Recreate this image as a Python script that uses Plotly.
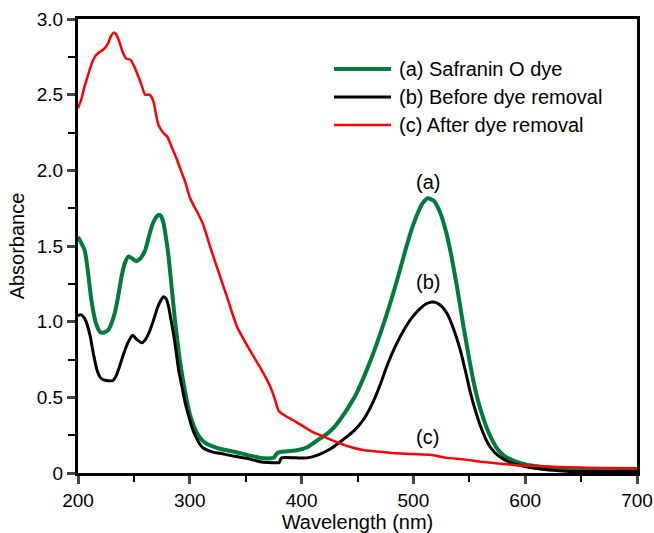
import plotly.graph_objects as go

# (a) Safranin O dye
wl_a = [200, 206, 212, 216, 220, 224, 227, 230, 233, 236, 239, 242, 245, 248, 252, 256, 260, 263, 266, 269,
        272, 274, 276.5, 279, 281, 284, 287, 291, 294, 297, 300, 303, 306, 309, 312, 316, 320, 327, 340, 351,
        357, 363, 368, 372, 375, 378, 382, 390, 396, 405, 411, 417, 423, 430, 438, 444, 450, 456, 462, 468,
        474, 480, 486, 492, 498, 504, 508, 513, 518, 524, 529, 533, 539, 545, 551, 556, 560, 565, 569, 575,
        581, 590, 602, 615, 630, 641, 660, 680, 700]
abs_a = [1.56, 1.47, 1.14, 0.99, 0.93, 0.93, 0.945, 0.99, 1.06, 1.17, 1.30, 1.39, 1.43, 1.42, 1.40, 1.42, 1.47, 1.55, 1.63, 1.68,
         1.705, 1.70, 1.65, 1.54, 1.43, 1.21, 0.99, 0.75, 0.61, 0.49, 0.39, 0.32, 0.27, 0.235, 0.21, 0.19, 0.178, 0.16, 0.14, 0.12,
         0.11, 0.10, 0.097, 0.097, 0.10, 0.13, 0.14, 0.145, 0.15, 0.17, 0.20, 0.23, 0.26, 0.31, 0.39, 0.46, 0.54, 0.64, 0.75, 0.87,
         1.00, 1.14, 1.29, 1.45, 1.60, 1.72, 1.78, 1.815, 1.80, 1.72, 1.60, 1.47, 1.23, 0.96, 0.71, 0.53, 0.42, 0.31, 0.24, 0.16,
         0.115, 0.08, 0.053, 0.04, 0.03, 0.025, 0.02, 0.017, 0.015]

# (b) Before dye removal
wl_b = [200, 203, 206, 209, 211, 214, 217, 220, 223, 227, 231, 234, 237, 240, 244, 248.7, 253, 257, 261, 264.5,
        268, 271, 274, 276.5, 279, 281, 283, 285.4, 288, 290, 293, 296, 300, 303, 306, 309, 312, 320, 327, 340,
        351, 357, 363, 370, 378, 380, 382, 395, 405, 415, 426, 437, 447, 456, 464.6, 470.6, 477, 484, 491.5, 499,
        506.5, 512, 518, 524, 530, 536, 542, 547, 551, 556, 560, 565, 569, 575, 581, 590, 602, 615, 630, 641,
        670, 700]
abs_b = [1.04, 1.045, 1.02, 0.96, 0.90, 0.78, 0.68, 0.63, 0.615, 0.61, 0.61, 0.64, 0.70, 0.77, 0.85, 0.91, 0.88, 0.86, 0.89, 0.945,
         1.02, 1.09, 1.14, 1.165, 1.15, 1.10, 1.02, 0.92, 0.79, 0.68, 0.57, 0.46, 0.35, 0.28, 0.23, 0.19, 0.165, 0.14, 0.13, 0.11,
         0.097, 0.085, 0.075, 0.07, 0.068, 0.07, 0.10, 0.10, 0.10, 0.12, 0.16, 0.22, 0.28, 0.36, 0.48, 0.59, 0.72, 0.84, 0.945, 1.03,
         1.09, 1.12, 1.13, 1.11, 1.055, 0.95, 0.81, 0.66, 0.53, 0.40, 0.31, 0.22, 0.17, 0.12, 0.09, 0.06, 0.04, 0.025, 0.015, 0.01,
         0.01, 0.01]

# (c) After dye removal
wl_c = [200, 203, 206, 209, 212, 215, 219, 223, 227, 229, 232, 234, 237, 240, 243, 247, 250, 254, 257, 260,
        264, 266, 268, 270, 272, 276, 280, 284, 288, 292, 296, 300, 304, 307, 312, 318, 322, 327, 333, 342,
        350, 357, 365, 372, 376, 379.5, 385, 392, 399, 410, 420, 426, 440, 456, 470, 485, 500, 515, 530, 545,
        560, 580, 596, 620, 641, 670, 700]
abs_c = [2.41, 2.47, 2.56, 2.63, 2.70, 2.75, 2.78, 2.80, 2.84, 2.88, 2.91, 2.90, 2.85, 2.78, 2.74, 2.73, 2.69, 2.62, 2.56, 2.50,
         2.50, 2.48, 2.44, 2.36, 2.30, 2.25, 2.22, 2.15, 2.08, 2.00, 1.92, 1.82, 1.76, 1.72, 1.64, 1.50, 1.41, 1.30, 1.17, 0.97,
         0.86, 0.77, 0.67, 0.57, 0.49, 0.41, 0.38, 0.35, 0.32, 0.27, 0.24, 0.22, 0.18, 0.15, 0.14, 0.13, 0.125, 0.12, 0.10, 0.09,
         0.075, 0.06, 0.05, 0.043, 0.038, 0.033, 0.031]

series_names = ["(a) Safranin O dye", "(b) Before dye removal", "(c) After dye removal"]
series_colors = ["#007A3D", "#000000", "#FF0000"]
series_widths = [4, 3, 2.5]

y_tickvals = [0, 0.5, 1.0, 1.5, 2.0, 2.5, 3.0]
y_ticktext = ["0", "0.5", "1.0", "1.5", "2.0", "2.5", "3.0"]
x_tickvals = [200, 300, 400, 500, 600, 700]

label_texts = ["(a)", "(b)", "(c)"]
label_x = [513, 513, 513]
label_y = [1.92, 1.26, 0.24]

FONT = "Liberation Sans, Arial, Helvetica, sans-serif"
FS = 20
FS_TICK = 19

# plot-area geometry (pixels) used for the hand-drawn legend
W, H = 654, 533
ML, MR, MT, MB = 78, 17, 19, 60
PW, PH = W - ML - MR, H - MT - MB


def px_x(p):
    return (p - ML) / PW


def px_y(p):
    return (H - MB - p) / PH


fig = go.Figure()
for wl, ab, name, col, w in zip([wl_a, wl_b, wl_c], [abs_a, abs_b, abs_c], series_names, series_colors, series_widths):
    fig.add_trace(go.Scatter(x=wl, y=ab, mode="lines", name=name, showlegend=False,
                             line=dict(color=col, width=w, shape="spline", smoothing=0.6)))

for t, xx, yy in zip(label_texts, label_x, label_y):
    fig.add_annotation(x=xx, y=yy, text=t, showarrow=False, font=dict(size=FS, color="black", family=FONT))

# legend drawn by hand: longer line samples than plotly's built-in legend
leg_rows = [69, 97, 125]
for name, col, w, ry in zip(series_names, series_colors, series_widths, leg_rows):
    fig.add_shape(type="line", xref="paper", yref="paper",
                  x0=px_x(334), x1=px_x(391), y0=px_y(ry), y1=px_y(ry),
                  line=dict(color=col, width=w))
    fig.add_annotation(xref="paper", yref="paper", x=px_x(397), y=px_y(ry), xanchor="left", yanchor="middle",
                       text=name, showarrow=False, font=dict(size=FS, color="black", family=FONT))

fig.update_layout(
    width=W, height=H,
    margin=dict(l=ML, r=MR, t=MT, b=MB, autoexpand=False),
    paper_bgcolor="white", plot_bgcolor="white",
    font=dict(family=FONT, size=FS, color="black"),
    showlegend=False,
    xaxis=dict(range=[200, 700], tickvals=x_tickvals, ticks="outside", ticklen=8, tickwidth=2.5,
               showline=True, linewidth=3, linecolor="black", mirror=True, showgrid=False, zeroline=False,
               automargin=False,
               minor=dict(dtick=50, ticks="outside", ticklen=6, tickwidth=2, tickcolor="black"),
               title=dict(text="Wavelength (nm)", font=dict(size=FS), standoff=3),
               tickfont=dict(size=FS_TICK)),
    yaxis=dict(range=[0, 3.0], tickvals=y_tickvals, ticktext=y_ticktext, ticks="outside", ticklen=8, tickwidth=2.5,
               showline=True, linewidth=3, linecolor="black", mirror=True, showgrid=False, zeroline=False,
               automargin=False,
               minor=dict(tickvals=[0.25, 0.75, 1.25, 1.75, 2.25, 2.75], ticks="outside", ticklen=7, tickwidth=2,
                          tickcolor="black"),
               title=dict(text="Absorbance", font=dict(size=FS), standoff=7),
               tickfont=dict(size=FS_TICK)),
)

fig.write_html("out.html")
